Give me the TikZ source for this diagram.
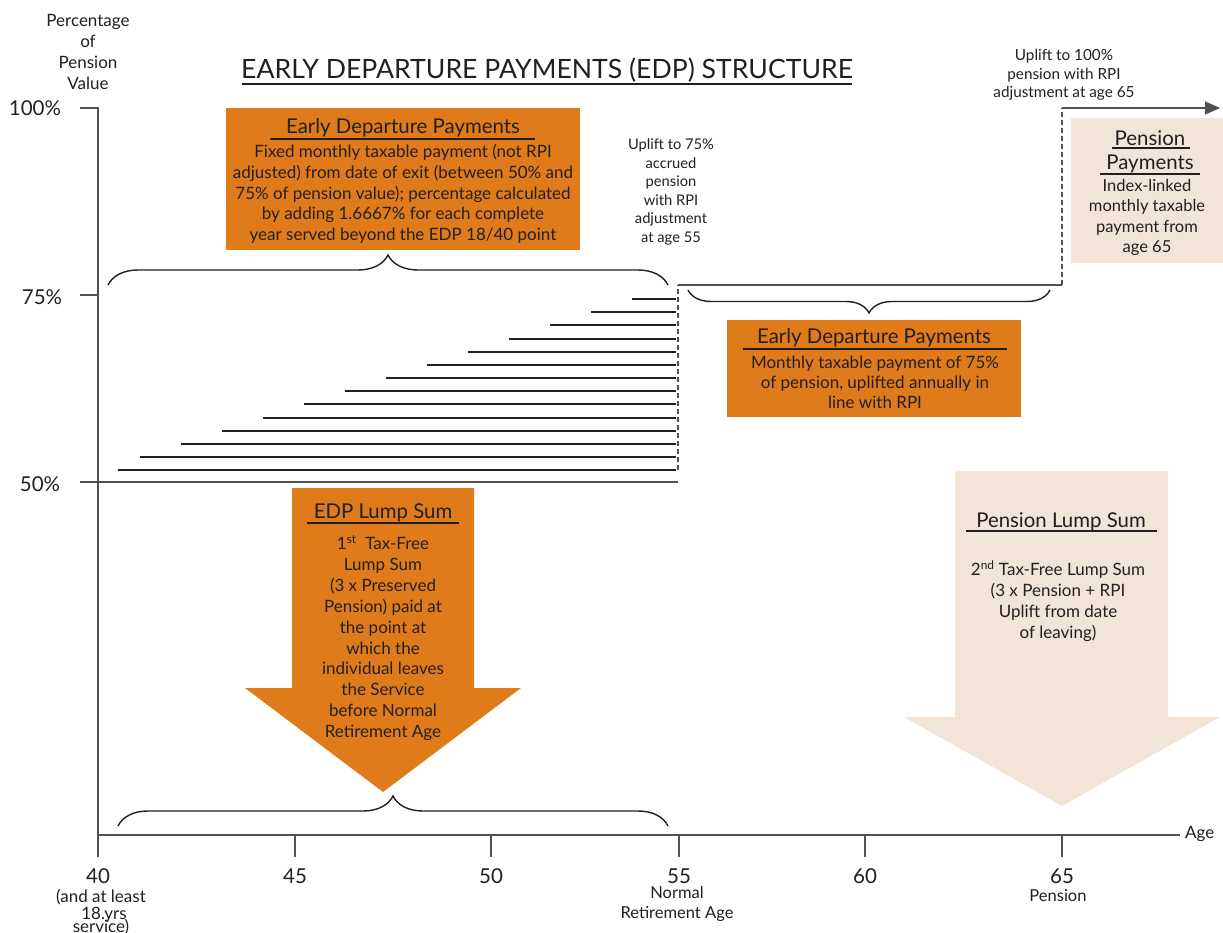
\documentclass[tikz,border=0pt]{standalone}
\usepackage{fontspec}
\setmainfont{Lato}
\usetikzlibrary{arrows.meta,positioning,decorations.pathreplacing}
\definecolor{edporange}{HTML}{E07B1B}
\definecolor{pensbeige}{HTML}{F2E4D7}
\definecolor{inkgray}{HTML}{231F20}
\definecolor{axisgray}{HTML}{505050}
\tikzset{
  orangeblk/.style={fill=edporange,draw=none,inner sep=0pt},
  beigeblk/.style={fill=pensbeige,draw=none,inner sep=0pt},
  ttl/.style={font=\fontsize{20.4}{25}\selectfont,text=inkgray,inner sep=0pt,align=center},
  bodytxt/.style={font=\fontsize{17}{20.7}\selectfont,align=center,text=inkgray,inner sep=0pt},
  notetxt/.style={font=\fontsize{14.7}{18.6}\selectfont,align=center,text=inkgray,inner sep=0pt},
  axlbl/.style={font=\fontsize{17}{20.5}\selectfont,align=center,text=inkgray,inner sep=0pt},
  ticklbl/.style={font=\fontsize{20.5}{22}\selectfont,text=inkgray,inner sep=0pt},
  uline/.style={line width=1.5pt,inkgray},
  axis/.style={line width=1.4pt,axisgray},
  stepln/.style={line width=2pt,inkgray},
  dashln/.style={line width=1.2pt,axisgray,dash pattern=on 5pt off 3pt},
  brc/.style={decorate,decoration={brace,amplitude=#1},line width=1.4pt,inkgray}
}
\begin{document}
\begin{tikzpicture}[x=1pt,y=-1pt]
  \useasboundingbox (0,0) rectangle (1223,933);

  % heading
  \node[text=inkgray,inner sep=0pt,font=\fontsize{26.6}{30}\selectfont] (title) at (547,70) {EARLY DEPARTURE PAYMENTS (EDP) STRUCTURE};
  \draw[uline] (242,84) -- (852,84);

  % axes
  \node[axlbl,font=\fontsize{17}{21}\selectfont] (ylab) at (88,52) {Percentage\\of\\Pension\\Value};
  \node[ticklbl] (p100) at (35,108) {100\%};
  \node[ticklbl] (p75) at (42,297) {75\%};
  \node[ticklbl] (p50) at (40,484) {50\%};
  \draw[axis] (80,108) -- (98,108) -- (98,835) -- (1180,835);
  \draw[axis] (80,295) -- (98,295);
  \draw[axis] (80,482) -- (678,482);
  \foreach \x/\a in {98/40,295/45,491/50,679/55,865/60,1062/65}{
    \draw[axis] (\x,835) -- (\x,857);
    \node[ticklbl] (age\a) at (\x,876) {\a};
  }
  \node[axlbl,anchor=west] (agelbl) at (1185,834) {Age};
  \node[axlbl] (sub40a) at (101,897) {(and at least};
  \node[axlbl] (sub40b) at (104,915) {18.yrs};
  \node[axlbl] (sub40c) at (101,927) {service)};
  \node[axlbl,font=\fontsize{16.5}{20}\selectfont] (sub55) at (677,904) {Normal\\Retirement Age};
  \node[axlbl,font=\fontsize{16.5}{20}\selectfont] (sub65) at (1058,896) {Pension};

  % EDP steps between 50% and 75%
  \foreach \i in {0,...,12}
    \draw[stepln] ({632-41*\i},{299+int(13.17*\i+0.5)}) -- (676,{299+int(13.17*\i+0.5)});
  \draw[stepln] (118,470) -- (676,470);

  % uplift path
  \draw[dashln] (678,470) -- (678,285);
  \draw[axis] (678,285) -- (1062,285);
  \draw[dashln] (1062,285) -- (1062,108);
  \draw[axis,-{Triangle[length=15pt,width=13pt]}] (1062,108) -- (1220,108);

  % braces
  \draw[brc=30pt] (108,285) -- (668,285);
  \draw[brc=23pt] (1050,290) -- (688,290);
  \draw[brc=30pt] (118,826) -- (668,826);

  % EDP box (50-75%)
  \node[orangeblk,minimum width=354pt,minimum height=142pt] (edpbox) at (403,179) {};
  \node[ttl] (edpttl) at (403,128) {Early Departure Payments};
  \draw[uline] (270,139) -- (535,139);
  \node[bodytxt] (edptxt) at (403,194) {Fixed monthly taxable payment (not RPI\\adjusted) from date of exit (between 50\% and\\75\% of pension value); percentage calculated\\by adding 1.6667\% for each complete\\year served beyond the EDP 18/40 point};

  % uplift notes
  \node[notetxt] (up75) at (671,192) {Uplift to 75\%\\accrued\\pension\\with RPI\\adjustment\\at age 55};
  \node[notetxt,font=\fontsize{15.3}{18.5}\selectfont] (up100) at (1064,75) {Uplift to 100\%\\pension with RPI\\adjustment at age 65};

  % EDP box (75%)
  \node[orangeblk,minimum width=294pt,minimum height=97pt] (edp75box) at (874,368.5) {};
  \node[ttl] (edp75ttl) at (874,338) {Early Departure Payments};
  \draw[uline] (743,349) -- (1007,349);
  \node[bodytxt,font=\fontsize{17}{20}\selectfont] (edp75txt) at (875,382) {Monthly taxable payment of 75\%\\of pension, uplifted annually in\\line with RPI};

  % pension payments box
  \node[beigeblk,minimum width=152pt,minimum height=145pt] (pensbox) at (1147,190.5) {};
  \node[ttl] (pensttl1) at (1150,138) {Pension};
  \draw[uline] (1112,148) -- (1190,148);
  \node[ttl] (pensttl2) at (1150,164) {Payments};
  \draw[uline] (1100,174) -- (1200,174);
  \node[bodytxt,font=\fontsize{16.5}{20.4}\selectfont] (penstxt) at (1147,217.5) {Index-linked\\monthly taxable\\payment from\\age 65};

  % EDP lump sum arrow
  \fill[edporange] (292,488) -- (474,488) -- (474,688) -- (521,688) -- (383,792) -- (245,688) -- (292,688) -- cycle;
  \node[ttl] (lumpttl) at (383,513) {EDP Lump Sum};
  \draw[uline] (307,523) -- (459,523);
  \node[bodytxt,font=\fontsize{17}{20.9}\selectfont] (lumptxt) at (383,638) {1\textsuperscript{st}\ \ Tax-Free\\Lump Sum\\(3 x Preserved\\Pension) paid at\\the point at\\which the\\individual leaves\\the Service\\before Normal\\Retirement Age};

  % pension lump sum arrow
  \fill[pensbeige] (955,471) -- (1168,471) -- (1168,717) -- (1220,717) -- (1062,806) -- (904,717) -- (955,717) -- cycle;
  \node[ttl] (plumpttl) at (1061,522) {Pension Lump Sum};
  \draw[uline] (966,531) -- (1157,531);
  \node[bodytxt,font=\fontsize{17}{21}\selectfont] (plumptxt) at (1058,601) {2\textsuperscript{nd} Tax-Free Lump Sum\\(3 x Pension + RPI\\Uplift from date\\of leaving)};
\end{tikzpicture}
\end{document}
